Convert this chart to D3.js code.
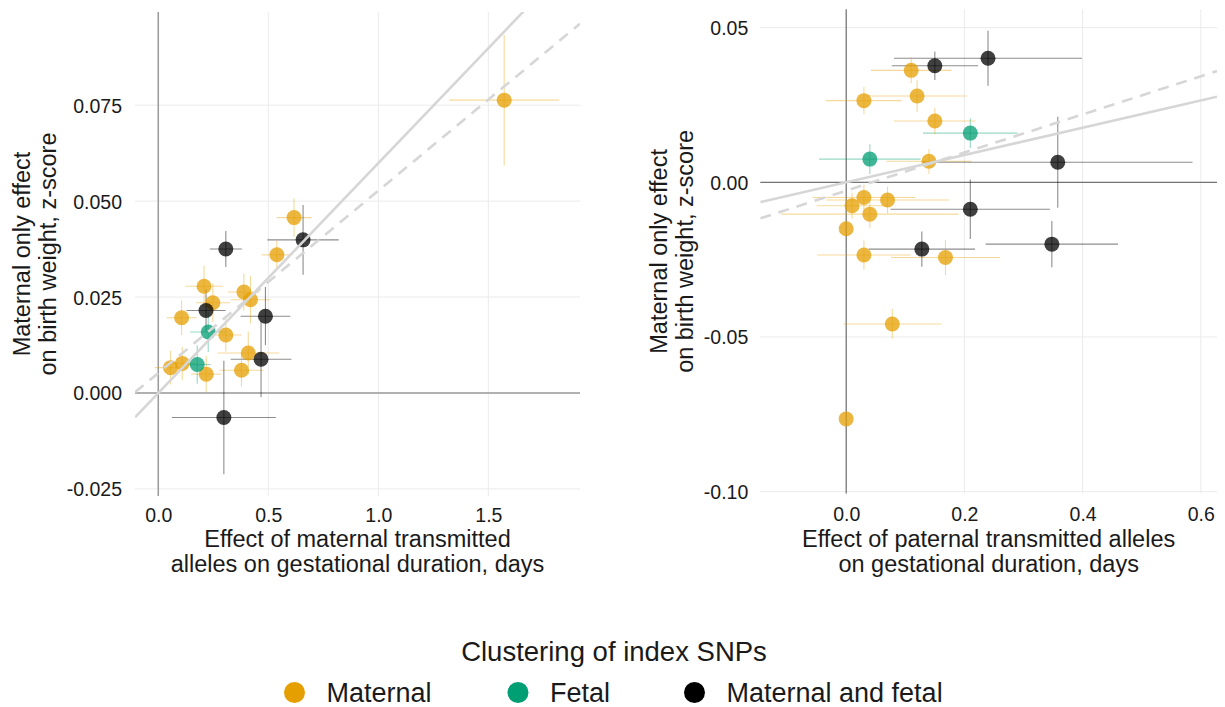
<!DOCTYPE html>
<html>
<head>
<meta charset="utf-8">
<script src="https://cdn.jsdelivr.net/npm/d3@7"></script>
<style>
  html, body { margin: 0; padding: 0; background: #fff; }
  svg text { font-family: "Liberation Sans", Arial, Helvetica, sans-serif; fill: #1a1a1a; }
</style>
</head>
<body>
<svg id="chart" width="1225" height="707"></svg>
<script>
// ---------------- DATA ----------------
const clusterNames = ["Maternal", "Fetal", "Maternal and fetal"];
const clusterColors = ["#E69F00", "#009E73", "#000000"];

// Left panel: maternal transmitted alleles
const leftCluster = [0,0,0,0,0,0,0,0,0,0,0,0,0,0, 1,1, 2,2,2,2,2,2];
const leftX   = [0.539,0.208,0.248,0.106,0.307,0.389,0.419,0.409,0.378,0.218,0.109,0.056,1.572,0.617, 0.227,0.177, 0.307,0.658,0.217,0.487,0.467,0.298];
const leftXse = [0.070,0.085,0.078,0.068,0.072,0.073,0.090,0.140,0.100,0.068,0.068,0.072,0.250,0.079, 0.082,0.060, 0.073,0.162,0.089,0.113,0.138,0.236];
const leftY   = [0.0360,0.0278,0.0235,0.0196,0.0151,0.0263,0.0243,0.0104,0.0059,0.0049,0.0077,0.0066,0.0763,0.0457, 0.0159,0.0074, 0.0375,0.0399,0.0215,0.0200,0.0088,-0.0064];
const leftYse = [0.0037,0.0054,0.0050,0.0045,0.0043,0.0048,0.0062,0.0056,0.0043,0.0047,0.0043,0.0044,0.0170,0.0050, 0.0052,0.0050, 0.0047,0.0091,0.0055,0.0076,0.0099,0.0148];
const leftLineSlope = [0.0599, 0.0475];      // solid, dashed
const leftLineIntercept = [0.0, 0.0052];

// Right panel: paternal transmitted alleles
const rightCluster = [0,0,0,0,0,0,0,0,0,0,0,0,0,0, 1,1, 2,2,2,2,2,2];
const rightX   = [0.110,0.120,0.030,0.150,0.140,0.030,0.070,0.010,0.040,0.000,0.030,0.168,0.078,0.000, 0.210,0.040, 0.240,0.150,0.358,0.210,0.128,0.348];
const rightXse = [0.068,0.085,0.064,0.069,0.072,0.087,0.104,0.060,0.150,0.000,0.079,0.092,0.083,0.000, 0.080,0.086, 0.159,0.073,0.228,0.135,0.090,0.112];
const rightY   = [0.0362,0.0279,0.0264,0.0198,0.0068,-0.0049,-0.0057,-0.0076,-0.0103,-0.0150,-0.0235,-0.0243,-0.0458,-0.0765, 0.0159,0.0075, 0.0401,0.0377,0.0065,-0.0087,-0.0216,-0.0200];
const rightYse = [0.0042,0.0051,0.0044,0.0043,0.0040,0.0042,0.0043,0.0042,0.0045,0.0000,0.0047,0.0057,0.0048,0.0000, 0.0048,0.0048, 0.0089,0.0046,0.0147,0.0096,0.0057,0.0075];
const rightLineSlope = [0.0441, 0.0616];
const rightLineIntercept = [0.0, -0.0027];

// Ticks
const leftXTicks = [0, 0.5, 1.0, 1.5];
const leftXTickLabels = ["0.0", "0.5", "1.0", "1.5"];
const leftYTicks = [-0.025, 0, 0.025, 0.05, 0.075];
const leftYTickLabels = ["-0.025", "0.000", "0.025", "0.050", "0.075"];
const rightXTicks = [0, 0.2, 0.4, 0.6];
const rightXTickLabels = ["0.0", "0.2", "0.4", "0.6"];
const rightYTicks = [-0.10, -0.05, 0, 0.05];
const rightYTickLabels = ["-0.10", "-0.05", "0.00", "0.05"];

const yTitle = ["Maternal only effect", "on birth weight, z-score"];
const leftXTitle = ["Effect of maternal transmitted", "alleles on gestational duration, days"];
const rightXTitle = ["Effect of paternal transmitted alleles", "on gestational duration, days"];
const legendTitle = "Clustering of index SNPs";

// ---------------- DRAW ----------------
const svg = d3.select("#chart");

function panel(cfg) {
  const x = d3.scaleLinear().domain(cfg.xdom).range([cfg.left, cfg.right]);
  const y = d3.scaleLinear().domain(cfg.ydom).range([cfg.bottom, cfg.top]);
  const g = svg.append("g");
  const clipId = "clip" + cfg.id;
  svg.append("defs").append("clipPath").attr("id", clipId)
    .append("rect").attr("x", cfg.left).attr("y", cfg.top)
    .attr("width", cfg.right - cfg.left).attr("height", cfg.bottom - cfg.top);

  // grid
  g.selectAll(".gx").data(cfg.xTicks).join("line")
    .attr("x1", d => x(d)).attr("x2", d => x(d))
    .attr("y1", cfg.top).attr("y2", cfg.bottom)
    .attr("stroke", "#ebebeb").attr("stroke-width", 1);
  g.selectAll(".gy").data(cfg.yTicks).join("line")
    .attr("y1", d => y(d)).attr("y2", d => y(d))
    .attr("x1", cfg.left).attr("x2", cfg.right)
    .attr("stroke", "#ebebeb").attr("stroke-width", 1);

  // zero lines
  g.append("line").attr("x1", x(0)).attr("x2", x(0)).attr("y1", cfg.top).attr("y2", cfg.bottom)
    .attr("stroke", cfg.zeroColor).attr("stroke-width", cfg.zeroWidth);
  g.append("line").attr("y1", y(0)).attr("y2", y(0)).attr("x1", cfg.left).attr("x2", cfg.right)
    .attr("stroke", cfg.zeroColor).attr("stroke-width", cfg.zeroWidth);

  const idx = d3.range(cfg.xs.length);
  // error bars
  const eb = g.append("g");
  eb.selectAll(".h").data(idx.filter(i => cfg.xse[i] > 0)).join("line")
    .attr("x1", i => x(cfg.xs[i] - cfg.xse[i])).attr("x2", i => x(cfg.xs[i] + cfg.xse[i]))
    .attr("y1", i => y(cfg.ys[i])).attr("y2", i => y(cfg.ys[i]))
    .attr("stroke", i => clusterColors[cfg.cl[i]])
    .attr("stroke-opacity", i => cfg.cl[i] === 2 ? 0.45 : 0.4).attr("stroke-width", 1.1);
  eb.selectAll(".v").data(idx.filter(i => cfg.yse[i] > 0)).join("line")
    .attr("x1", i => x(cfg.xs[i])).attr("x2", i => x(cfg.xs[i]))
    .attr("y1", i => y(cfg.ys[i] - cfg.yse[i])).attr("y2", i => y(cfg.ys[i] + cfg.yse[i]))
    .attr("stroke", i => clusterColors[cfg.cl[i]])
    .attr("stroke-opacity", i => cfg.cl[i] === 2 ? 0.45 : 0.4).attr("stroke-width", 1.1);

  // points
  g.append("g").selectAll("circle").data(idx).join("circle")
    .attr("cx", i => x(cfg.xs[i])).attr("cy", i => y(cfg.ys[i])).attr("r", 7.5)
    .attr("fill", i => clusterColors[cfg.cl[i]]).attr("fill-opacity", 0.75);

  // regression lines
  const lg = g.append("g").attr("clip-path", `url(#${clipId})`);
  cfg.slopes.forEach((s, k) => {
    const b = cfg.intercepts[k];
    const xa = cfg.xdom[0], xb = cfg.xdom[1];
    lg.append("line")
      .attr("x1", x(xa)).attr("y1", y(b + s * xa))
      .attr("x2", x(xb)).attr("y2", y(b + s * xb))
      .attr("stroke", "#d6d6d6").attr("stroke-width", 2.6)
      .attr("stroke-dasharray", k === 1 ? "11,8" : null);
  });

  // axes
  const ax = g.append("g").attr("transform", `translate(0,${cfg.bottom})`)
    .call(d3.axisBottom(x).tickValues(cfg.xTicks).tickFormat((d, i) => cfg.xLabels[i]).tickSize(0));
  ax.select(".domain").remove();
  ax.selectAll("text").attr("dy", null).attr("y", cfg.xLabelBase - cfg.bottom)
    .attr("font-size", 19.5).attr("fill", "#1a1a1a").style("font-family", "Liberation Sans, Arial, sans-serif");

  const ay = g.append("g").attr("transform", `translate(${cfg.left},0)`)
    .call(d3.axisLeft(y).tickValues(cfg.yTicks).tickFormat((d, i) => cfg.yLabels[i]).tickSize(0).tickPadding(cfg.yPad));
  ay.select(".domain").remove();
  ay.selectAll("text").attr("dy", "0.36em")
    .attr("font-size", 19.5).attr("fill", "#1a1a1a").style("font-family", "Liberation Sans, Arial, sans-serif");

  // x title
  const cx = (cfg.left + cfg.right) / 2;
  cfg.xTitle.forEach((t, i) => {
    svg.append("text").attr("x", cx).attr("y", 546.5 + i * 25.5)
      .attr("text-anchor", "middle").attr("font-size", 23.5).text(t);
  });
  // y title
  const cy = (cfg.top + cfg.bottom) / 2;
  yTitle.forEach((t, i) => {
    svg.append("text")
      .attr("transform", `translate(${cfg.yTitleBase + i * 26},${cy}) rotate(-90)`)
      .attr("text-anchor", "middle").attr("font-size", 23.5).text(t);
  });
}

panel({
  id: "L", left: 135, right: 580, top: 12, bottom: 496,
  xdom: [-0.1058, 1.9165], ydom: [-0.02685, 0.09927],
  xTicks: leftXTicks, xLabels: leftXTickLabels, yTicks: leftYTicks, yLabels: leftYTickLabels,
  xs: leftX, xse: leftXse, ys: leftY, yse: leftYse, cl: leftCluster,
  slopes: leftLineSlope, intercepts: leftLineIntercept,
  zeroColor: "#9a9a9a", zeroWidth: 1.5, xLabelBase: 521.5, yPad: 13,
  xTitle: leftXTitle, yTitleBase: 30
});

panel({
  id: "R", left: 760.3, right: 1217, top: 9.3, bottom: 493.5,
  xdom: [-0.1453, 0.6274], ydom: [-0.10061, 0.05593],
  xTicks: rightXTicks, xLabels: rightXTickLabels, yTicks: rightYTicks, yLabels: rightYTickLabels,
  xs: rightX, xse: rightXse, ys: rightY, yse: rightYse, cl: rightCluster,
  slopes: rightLineSlope, intercepts: rightLineIntercept,
  zeroColor: "#555555", zeroWidth: 1, xLabelBase: 520.5, yPad: 12,
  xTitle: rightXTitle, yTitleBase: 667
});

// legend
svg.append("text").attr("x", 614).attr("y", 661).attr("text-anchor", "middle")
  .attr("font-size", 27.5).text(legendTitle);
const legendX = [294.5, 518, 694.5];
const lg = svg.append("g");
clusterNames.forEach((name, i) => {
  lg.append("circle").attr("cx", legendX[i]).attr("cy", 692.5).attr("r", 10.5).attr("fill", clusterColors[i]);
  lg.append("text").attr("x", legendX[i] + 32).attr("y", 701.5).attr("font-size", 27).text(name);
});
</script>
</body>
</html>
